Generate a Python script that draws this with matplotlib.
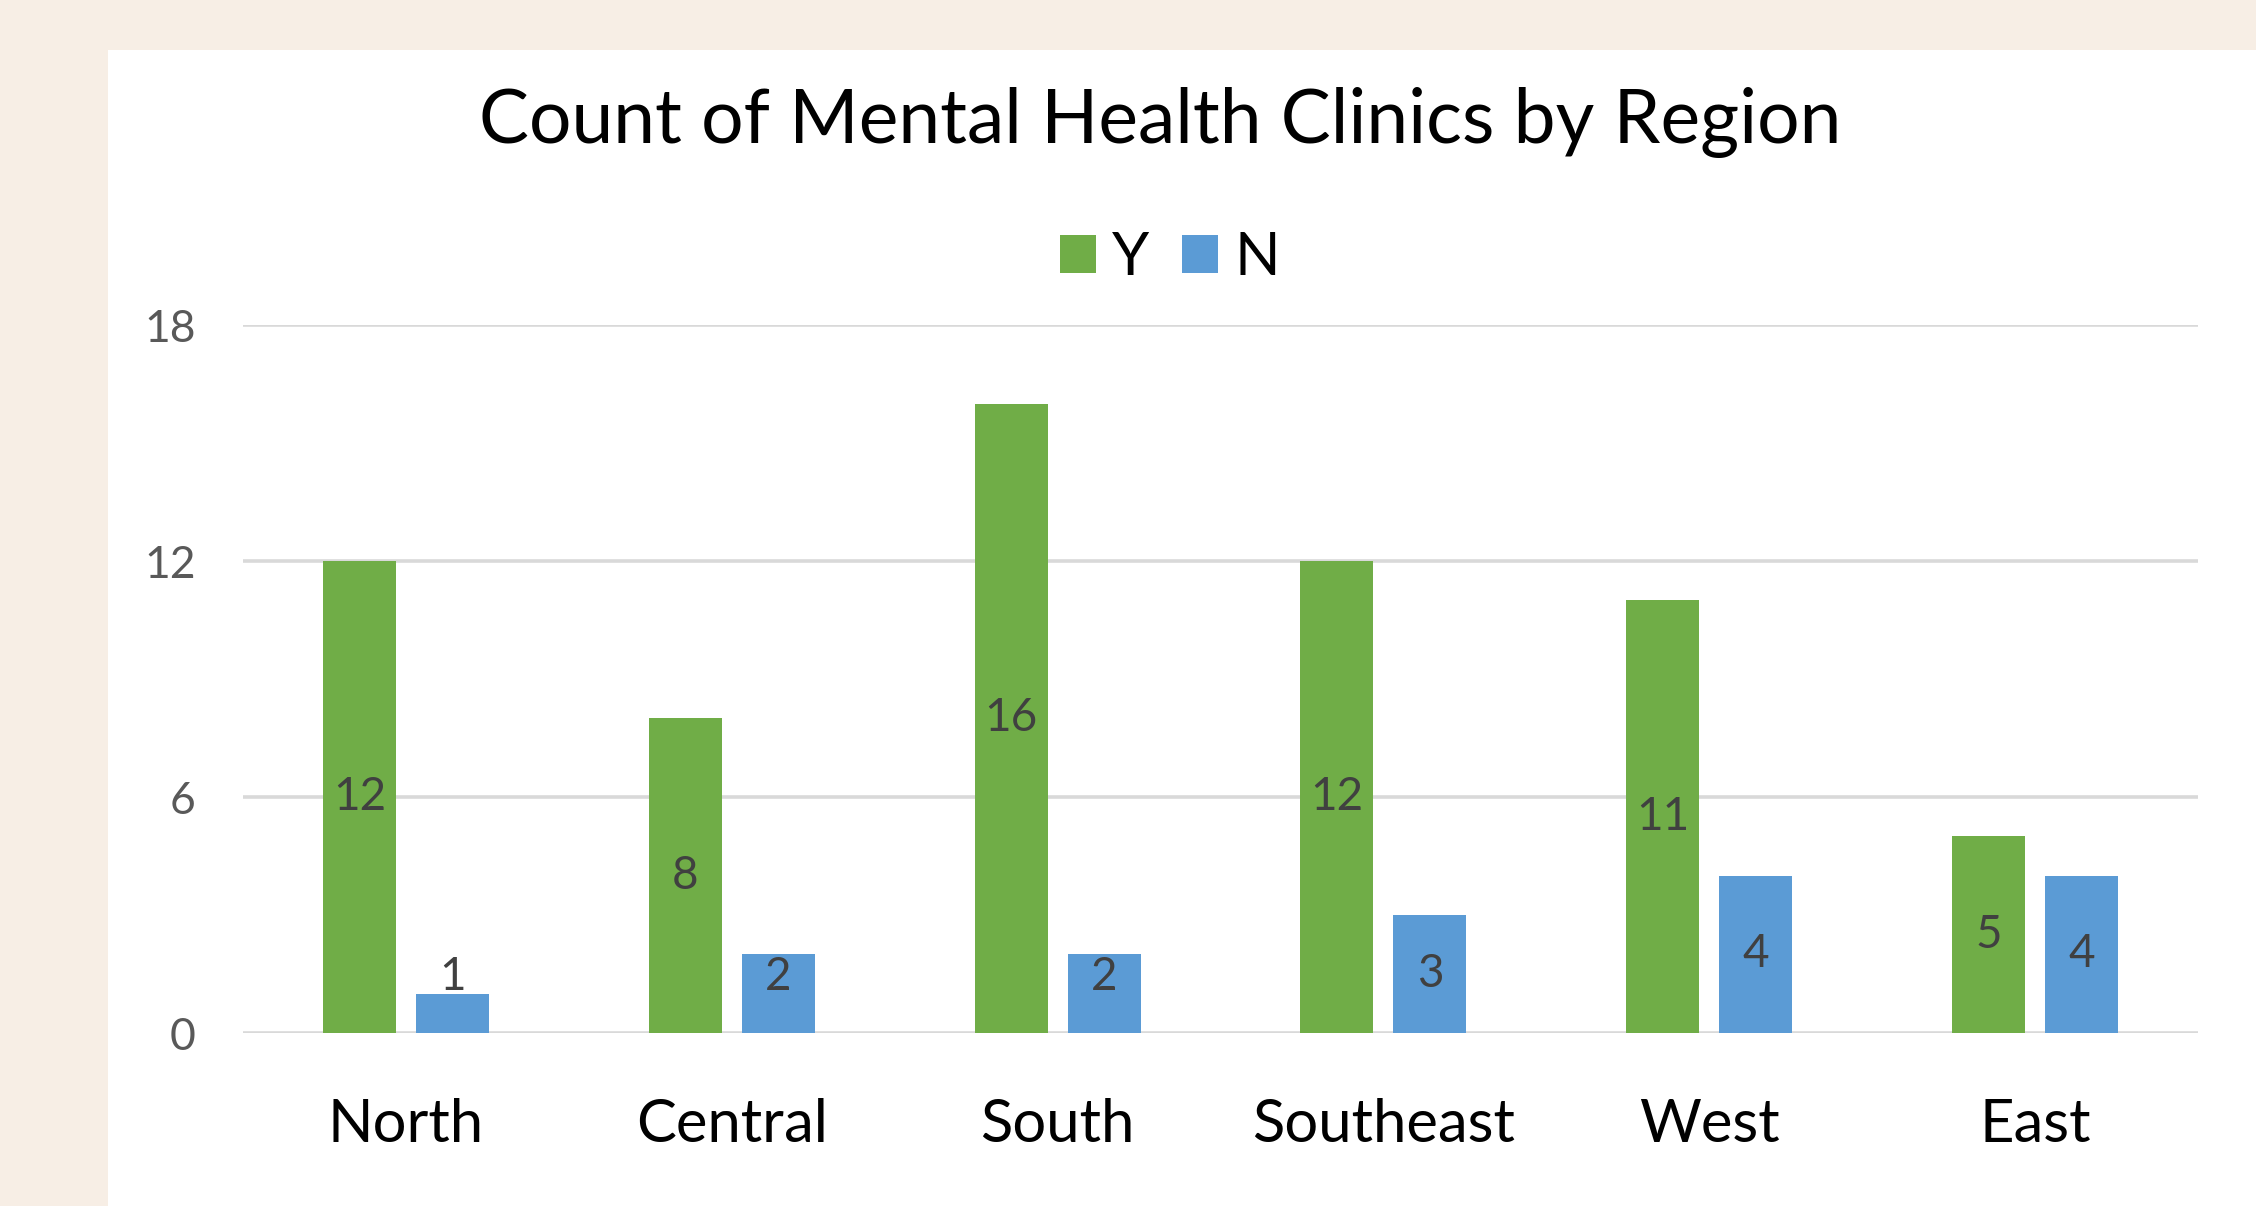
import matplotlib
matplotlib.use("Agg")
import matplotlib.pyplot as plt
import matplotlib.patches as mpatches
import numpy as np

plt.rcParams['font.family'] = ['Lato', 'DejaVu Sans']

regions = ['North', 'Central', 'South', 'Southeast', 'West', 'East']
yes_counts = [12, 8, 16, 12, 11, 5]
no_counts = [1, 2, 2, 3, 4, 4]
y_ticks = [0, 6, 12, 18]

green = '#70AD47'
blue = '#5B9BD5'
W, H = 2256, 1206

fig = plt.figure(figsize=(W / 100, H / 100), dpi=100, facecolor='#F7EEE5')
# white chart panel, behind the axes
fig.patches.append(mpatches.Rectangle((108 / W, 0), 1 - 108 / W, 1 - 50 / H,
                                      transform=fig.transFigure, facecolor='white',
                                      edgecolor='none', zorder=-10))

ax = fig.add_axes([243 / W, 1 - 1033 / H, (2198 - 243) / W, (1033 - 325) / H])
ax.set_facecolor('none')

x = np.arange(len(regions))
off, w = 0.1427, 0.224
b1 = ax.bar(x - off, yes_counts, w, color=green, zorder=3, label='Y')
b2 = ax.bar(x + off, no_counts, w, color=blue, zorder=3, label='N')

# centred labels, kept from dropping below the axis on short bars (like Excel)
for bars, vals in ((b1, yes_counts), (b2, no_counts)):
    for r, v in zip(bars, vals):
        ax.text(r.get_x() + r.get_width() / 2, max(v / 2, 1.43), str(v),
                ha='center', va='center', fontsize=33, color='#404040', zorder=4)

ax.set_xlim(-0.5, len(regions) - 0.5)
ax.set_ylim(0, 18)
ax.set_yticks(y_ticks)
ax.yaxis.grid(True, color='#D9D9D9', linewidth=2.6, zorder=0)
ax.set_axisbelow(True)
for s in ax.spines.values():
    s.set_visible(False)
ax.tick_params(axis='y', length=0, pad=34, labelsize=32, labelcolor='#595959')
ax.set_xticks(x)
ax.set_xticklabels(regions)
ax.tick_params(axis='x', length=0, pad=47, labelsize=43, labelcolor='black')

fig.text(1160 / W, 1 - 143 / H, 'Count of Mental Health Clinics by Region',
         ha='center', va='baseline', fontsize=54, color='black')

fig.legend(handles=[b1, b2], labels=['Y', 'N'], loc='center', ncol=2,
           bbox_to_anchor=(1170 / W, 1 - 258 / H), frameon=False, fontsize=43,
           handlelength=0.6, handleheight=0.6, handletextpad=0.27, columnspacing=0.55)

fig.savefig('out.png', dpi=100, facecolor=fig.get_facecolor())
